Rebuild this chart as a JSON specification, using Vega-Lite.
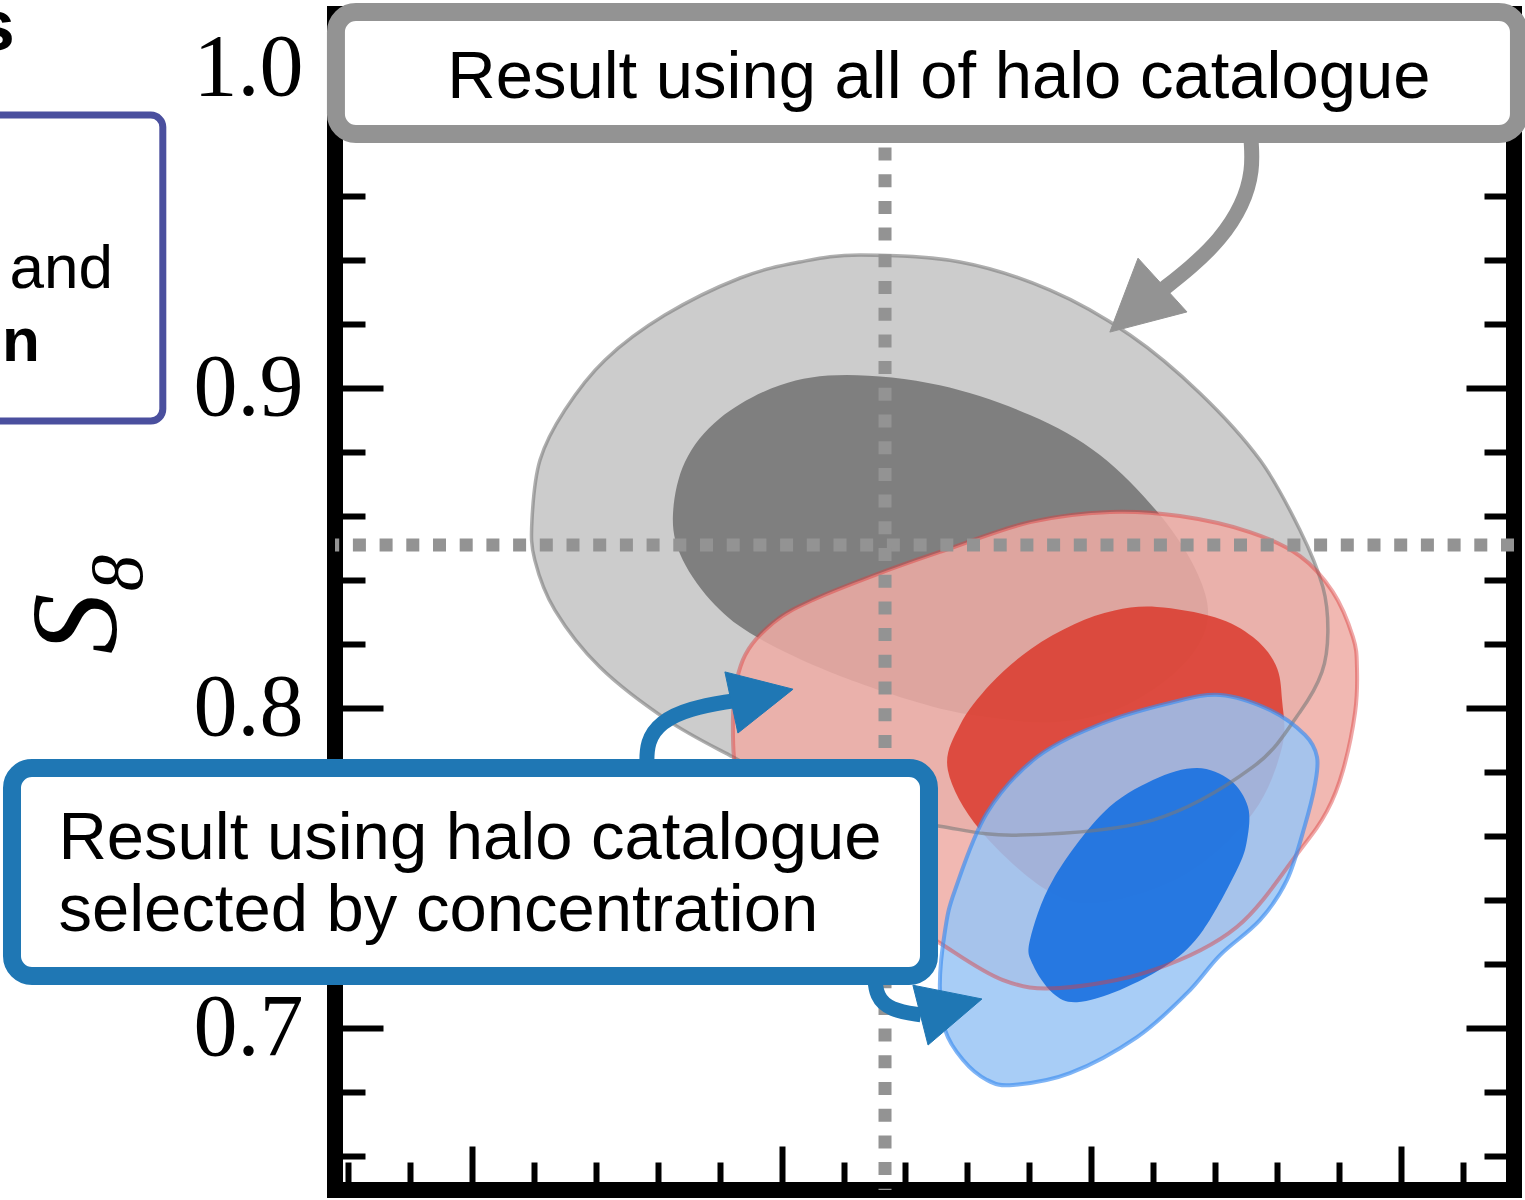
{
  "$schema": "https://vega.github.io/schema/vega-lite/v6.json",
  "width": 1179,
  "height": 1176,
  "autosize": {"type": "none"},
  "padding": {"left": 335, "top": 14, "right": 11, "bottom": 10},
  "background": "white",
  "config": {
    "view": {"stroke": "black", "strokeWidth": 16},
    "axis": {"domain": false, "grid": false, "tickColor": "black", "tickWidth": 6, "tickCap": "butt"}
  },
  "resolve": {"axis": {"x": "independent", "y": "independent"}},
  "datasets": {
    "pts": [
      {"s":"go","i":0,"x":0.3253,"y":0.9416},{"s":"go","i":1,"x":0.3576,"y":0.9394},{"s":"go","i":2,"x":0.3867,"y":0.9306},{"s":"go","i":3,"x":0.4125,"y":0.9166},{"s":"go","i":4,"x":0.4351,"y":0.8984},{"s":"go","i":5,"x":0.4545,"y":0.8775},{"s":"go","i":6,"x":0.4674,"y":0.8556},{"s":"go","i":7,"x":0.4748,"y":0.8378},{"s":"go","i":8,"x":0.4764,"y":0.8238},{"s":"go","i":9,"x":0.4745,"y":0.8113},{"s":"go","i":10,"x":0.4674,"y":0.7988},{"s":"go","i":11,"x":0.4522,"y":0.7816},{"s":"go","i":12,"x":0.4199,"y":0.765},{"s":"go","i":13,"x":0.377,"y":0.7603},{"s":"go","i":14,"x":0.3511,"y":0.7631},{"s":"go","i":15,"x":0.3253,"y":0.7681},{"s":"go","i":16,"x":0.3027,"y":0.7759},{"s":"go","i":17,"x":0.2843,"y":0.7847},{"s":"go","i":18,"x":0.263,"y":0.7963},{"s":"go","i":19,"x":0.2413,"y":0.8128},{"s":"go","i":20,"x":0.2268,"y":0.8306},{"s":"go","i":21,"x":0.2203,"y":0.8463},{"s":"go","i":22,"x":0.2194,"y":0.8588},{"s":"go","i":23,"x":0.222,"y":0.8775},{"s":"go","i":24,"x":0.23,"y":0.8931},{"s":"go","i":25,"x":0.243,"y":0.9088},{"s":"go","i":26,"x":0.2623,"y":0.9228},{"s":"go","i":27,"x":0.2866,"y":0.9344},{"s":"go","i":28,"x":0.3059,"y":0.9394},
      {"s":"gi","i":0,"x":0.3211,"y":0.9041},{"s":"gi","i":1,"x":0.3511,"y":0.9009},{"s":"gi","i":2,"x":0.3802,"y":0.8916},{"s":"gi","i":3,"x":0.4028,"y":0.8791},{"s":"gi","i":4,"x":0.4222,"y":0.8603},{"s":"gi","i":5,"x":0.4345,"y":0.8416},{"s":"gi","i":6,"x":0.4374,"y":0.8266},{"s":"gi","i":7,"x":0.4286,"y":0.8125},{"s":"gi","i":8,"x":0.4093,"y":0.8},{"s":"gi","i":9,"x":0.3876,"y":0.7956},{"s":"gi","i":10,"x":0.3641,"y":0.7975},{"s":"gi","i":11,"x":0.3447,"y":0.8016},{"s":"gi","i":12,"x":0.3156,"y":0.8113},{"s":"gi","i":13,"x":0.292,"y":0.8222},{"s":"gi","i":14,"x":0.2785,"y":0.8322},{"s":"gi","i":15,"x":0.2681,"y":0.8463},{"s":"gi","i":16,"x":0.2649,"y":0.8597},{"s":"gi","i":17,"x":0.2688,"y":0.8769},{"s":"gi","i":18,"x":0.2801,"y":0.8906},{"s":"gi","i":19,"x":0.2995,"y":0.9009},
      {"s":"ro","i":0,"x":0.406,"y":0.8613},{"s":"ro","i":1,"x":0.4286,"y":0.86},{"s":"ro","i":2,"x":0.4512,"y":0.855},{"s":"ro","i":3,"x":0.4674,"y":0.8475},{"s":"ro","i":4,"x":0.478,"y":0.8363},{"s":"ro","i":5,"x":0.4845,"y":0.8222},{"s":"ro","i":6,"x":0.4858,"y":0.8125},{"s":"ro","i":7,"x":0.4852,"y":0.7988},{"s":"ro","i":8,"x":0.4813,"y":0.7806},{"s":"ro","i":9,"x":0.4761,"y":0.7678},{"s":"ro","i":10,"x":0.4674,"y":0.7556},{"s":"ro","i":11,"x":0.447,"y":0.7316},{"s":"ro","i":12,"x":0.4199,"y":0.7181},{"s":"ro","i":13,"x":0.3899,"y":0.7125},{"s":"ro","i":14,"x":0.3715,"y":0.715},{"s":"ro","i":15,"x":0.3511,"y":0.7266},{"s":"ro","i":16,"x":0.3285,"y":0.7416},{"s":"ro","i":17,"x":0.3027,"y":0.7588},{"s":"ro","i":18,"x":0.2872,"y":0.7744},{"s":"ro","i":19,"x":0.2843,"y":0.7963},{"s":"ro","i":20,"x":0.2875,"y":0.815},{"s":"ro","i":21,"x":0.2972,"y":0.8266},{"s":"ro","i":22,"x":0.3101,"y":0.8338},{"s":"ro","i":23,"x":0.3318,"y":0.8422},{"s":"ro","i":24,"x":0.3511,"y":0.8488},{"s":"ro","i":25,"x":0.3802,"y":0.8581},
      {"s":"ri","i":0,"x":0.4212,"y":0.8316},{"s":"ri","i":1,"x":0.4399,"y":0.8284},{"s":"ri","i":2,"x":0.4522,"y":0.8222},{"s":"ri","i":3,"x":0.4596,"y":0.8134},{"s":"ri","i":4,"x":0.4616,"y":0.8025},{"s":"ri","i":5,"x":0.4616,"y":0.7878},{"s":"ri","i":6,"x":0.4522,"y":0.7672},{"s":"ri","i":7,"x":0.4309,"y":0.7484},{"s":"ri","i":8,"x":0.4038,"y":0.7394},{"s":"ri","i":9,"x":0.3857,"y":0.7431},{"s":"ri","i":10,"x":0.3641,"y":0.7619},{"s":"ri","i":11,"x":0.3537,"y":0.7806},{"s":"ri","i":12,"x":0.3575,"y":0.7945},{"s":"ri","i":13,"x":0.3675,"y":0.8075},{"s":"ri","i":14,"x":0.3805,"y":0.8185},{"s":"ri","i":15,"x":0.3945,"y":0.8262},{"s":"ri","i":16,"x":0.4075,"y":0.8305},
      {"s":"bo","i":0,"x":0.4416,"y":0.8041},{"s":"bo","i":1,"x":0.4577,"y":0.7994},{"s":"bo","i":2,"x":0.469,"y":0.7916},{"s":"bo","i":3,"x":0.4729,"y":0.7847},{"s":"bo","i":4,"x":0.4722,"y":0.7759},{"s":"bo","i":5,"x":0.469,"y":0.7634},{"s":"bo","i":6,"x":0.4632,"y":0.7463},{"s":"bo","i":7,"x":0.4545,"y":0.7338},{"s":"bo","i":8,"x":0.4416,"y":0.7228},{"s":"bo","i":9,"x":0.4309,"y":0.7109},{"s":"bo","i":10,"x":0.4148,"y":0.6972},{"s":"bo","i":11,"x":0.3931,"y":0.6859},{"s":"bo","i":12,"x":0.3747,"y":0.6822},{"s":"bo","i":13,"x":0.3663,"y":0.6838},{"s":"bo","i":14,"x":0.3586,"y":0.69},{"s":"bo","i":15,"x":0.3528,"y":0.6994},{"s":"bo","i":16,"x":0.3511,"y":0.7134},{"s":"bo","i":17,"x":0.3528,"y":0.7306},{"s":"bo","i":18,"x":0.356,"y":0.7431},{"s":"bo","i":19,"x":0.3663,"y":0.7672},{"s":"bo","i":20,"x":0.3825,"y":0.7847},{"s":"bo","i":21,"x":0.4038,"y":0.7953},{"s":"bo","i":22,"x":0.4254,"y":0.8016},
      {"s":"bi","i":0,"x":0.4341,"y":0.7813},{"s":"bi","i":1,"x":0.4448,"y":0.7775},{"s":"bi","i":2,"x":0.4506,"y":0.7691},{"s":"bi","i":3,"x":0.4503,"y":0.7588},{"s":"bi","i":4,"x":0.447,"y":0.7494},{"s":"bi","i":5,"x":0.4361,"y":0.7306},{"s":"bi","i":6,"x":0.4254,"y":0.7203},{"s":"bi","i":7,"x":0.4093,"y":0.7119},{"s":"bi","i":8,"x":0.3954,"y":0.7081},{"s":"bi","i":9,"x":0.3876,"y":0.7109},{"s":"bi","i":10,"x":0.3812,"y":0.7197},{"s":"bi","i":11,"x":0.3802,"y":0.7275},{"s":"bi","i":12,"x":0.3876,"y":0.7463},{"s":"bi","i":13,"x":0.4038,"y":0.7672},{"s":"bi","i":14,"x":0.4199,"y":0.7775},
      {"s":"gs","i":0,"x":0.4516,"y":0.9775},{"s":"gs","i":1,"x":0.4522,"y":0.9681},{"s":"gs","i":2,"x":0.449,"y":0.9572},{"s":"gs","i":3,"x":0.4416,"y":0.9463},{"s":"gs","i":4,"x":0.4319,"y":0.9375},{"s":"gs","i":5,"x":0.4228,"y":0.9306},
      {"s":"gh","i":0,"x":0.406,"y":0.9175},{"s":"gh","i":1,"x":0.4151,"y":0.9406},{"s":"gh","i":2,"x":0.4309,"y":0.9238},
      {"s":"b1s","i":0,"x":0.2565,"y":0.7822},{"s":"b1s","i":1,"x":0.2565,"y":0.7894},{"s":"b1s","i":2,"x":0.2607,"y":0.7956},{"s":"b1s","i":3,"x":0.2704,"y":0.8},{"s":"b1s","i":4,"x":0.284,"y":0.8022},
      {"s":"b1h","i":0,"x":0.3037,"y":0.8059},{"s":"b1h","i":1,"x":0.2817,"y":0.8113},{"s":"b1h","i":2,"x":0.2859,"y":0.7922},
      {"s":"b2s","i":0,"x":0.3301,"y":0.7163},{"s":"b2s","i":1,"x":0.3305,"y":0.71},{"s":"b2s","i":2,"x":0.335,"y":0.7056},{"s":"b2s","i":3,"x":0.345,"y":0.7041},
      {"s":"b2h","i":0,"x":0.3647,"y":0.7091},{"s":"b2h","i":1,"x":0.3424,"y":0.7134},{"s":"b2h","i":2,"x":0.3473,"y":0.6947}
    ]
  },
  "layer": [
    {
      "data": {"name": "pts"},
      "transform": [{"filter": "datum.s === 'go'"}],
      "mark": {"type": "line", "interpolate": "cardinal-closed", "fill": "#cccccc", "stroke": "transparent", "strokeWidth": 0},
      "encoding": {
        "x": {"field": "x", "type": "quantitative", "scale": {"domain": [0.1558, 0.5365], "nice": false, "zero": false},
              "axis": {"orient": "bottom", "values": [0.2, 0.3, 0.4, 0.5], "tickSize": -44, "labels": false, "title": null}},
        "y": {"field": "y", "type": "quantitative", "scale": {"domain": [0.6494, 1.0169], "nice": false, "zero": false},
              "axis": {"orient": "left", "values": [0.7, 0.8, 0.9, 1.0], "tickSize": -48, "labelPadding": 80, "format": ".1f",
                       "labelFont": "Liberation Serif", "labelFontSize": 88, "labelColor": "black",
                       "title": "S₈", "titleFont": "Liberation Serif", "titleFontStyle": "italic", "titleFontWeight": "normal",
                       "titleFontSize": 122, "titleColor": "black", "titlePadding": 52}},
        "order": {"field": "i", "type": "quantitative"}
      }
    },
    {
      "data": {"name": "pts"},
      "transform": [{"filter": "datum.s === 'gi'"}],
      "mark": {"type": "line", "interpolate": "cardinal-closed", "fill": "#7f7f7f", "stroke": "transparent", "strokeWidth": 0},
      "encoding": {
        "x": {"field": "x", "type": "quantitative", "scale": {"domain": [0.1558, 0.5365], "nice": false, "zero": false},
              "axis": {"orient": "bottom", "values": [0.16, 0.18, 0.22, 0.24, 0.26, 0.28, 0.32, 0.34, 0.36, 0.38, 0.42, 0.44, 0.46, 0.48, 0.52], "tickSize": -28, "labels": false, "title": null}},
        "y": {"field": "y", "type": "quantitative", "scale": {"domain": [0.6494, 1.0169], "nice": false, "zero": false},
              "axis": {"orient": "left", "values": [0.66, 0.68, 0.72, 0.74, 0.76, 0.78, 0.82, 0.84, 0.86, 0.88, 0.92, 0.94, 0.96, 0.98], "tickSize": -30, "labels": false, "title": null}},
        "order": {"field": "i", "type": "quantitative"}
      }
    },
    {
      "data": {"name": "pts"},
      "transform": [{"filter": "datum.s === 'ro'"}],
      "mark": {"type": "line", "interpolate": "cardinal-closed", "fill": "#efaba4", "fillOpacity": 0.85, "stroke": "transparent", "strokeWidth": 0},
      "encoding": {
        "x": {"field": "x", "type": "quantitative", "scale": {"domain": [0.1558, 0.5365], "nice": false, "zero": false}, "axis": null},
        "y": {"field": "y", "type": "quantitative", "scale": {"domain": [0.6494, 1.0169], "nice": false, "zero": false},
              "axis": {"orient": "right", "values": [0.7, 0.8, 0.9, 1.0], "tickSize": -48, "labels": false, "title": null}},
        "order": {"field": "i", "type": "quantitative"}
      }
    },
    {
      "data": {"name": "pts"},
      "transform": [{"filter": "datum.s === 'ri'"}],
      "mark": {"type": "line", "interpolate": "cardinal-closed", "fill": "#da3a2d", "fillOpacity": 0.85, "stroke": "transparent", "strokeWidth": 0},
      "encoding": {
        "x": {"field": "x", "type": "quantitative", "scale": {"domain": [0.1558, 0.5365], "nice": false, "zero": false}, "axis": null},
        "y": {"field": "y", "type": "quantitative", "scale": {"domain": [0.6494, 1.0169], "nice": false, "zero": false},
              "axis": {"orient": "right", "values": [0.66, 0.68, 0.72, 0.74, 0.76, 0.78, 0.82, 0.84, 0.86, 0.88, 0.92, 0.94, 0.96, 0.98], "tickSize": -30, "labels": false, "title": null}},
        "order": {"field": "i", "type": "quantitative"}
      }
    },
    {
      "data": {"name": "pts"},
      "transform": [{"filter": "datum.s === 'bo'"}],
      "mark": {"type": "line", "interpolate": "cardinal-closed", "fill": "#99c4f5", "fillOpacity": 0.85, "stroke": "transparent", "strokeWidth": 0},
      "encoding": {
        "x": {"field": "x", "type": "quantitative", "scale": {"domain": [0.1558, 0.5365], "nice": false, "zero": false}, "axis": null},
        "y": {"field": "y", "type": "quantitative", "scale": {"domain": [0.6494, 1.0169], "nice": false, "zero": false}, "axis": null},
        "order": {"field": "i", "type": "quantitative"}
      }
    },
    {
      "data": {"name": "pts"},
      "transform": [{"filter": "datum.s === 'bi'"}],
      "mark": {"type": "line", "interpolate": "cardinal-closed", "fill": "#1870e0", "fillOpacity": 0.9, "stroke": "transparent", "strokeWidth": 0},
      "encoding": {
        "x": {"field": "x", "type": "quantitative", "scale": {"domain": [0.1558, 0.5365], "nice": false, "zero": false}, "axis": null},
        "y": {"field": "y", "type": "quantitative", "scale": {"domain": [0.6494, 1.0169], "nice": false, "zero": false}, "axis": null},
        "order": {"field": "i", "type": "quantitative"}
      }
    },
    {
      "data": {"name": "pts"},
      "transform": [{"filter": "datum.s === 'go'"}],
      "mark": {"type": "line", "interpolate": "cardinal-closed", "stroke": "#7a7a7a", "strokeOpacity": 0.6, "strokeWidth": 3.5},
      "encoding": {
        "x": {"field": "x", "type": "quantitative", "scale": {"domain": [0.1558, 0.5365], "nice": false, "zero": false}, "axis": null},
        "y": {"field": "y", "type": "quantitative", "scale": {"domain": [0.6494, 1.0169], "nice": false, "zero": false}, "axis": null},
        "order": {"field": "i", "type": "quantitative"}
      }
    },
    {
      "data": {"name": "pts"},
      "transform": [{"filter": "datum.s === 'ro'"}],
      "mark": {"type": "line", "interpolate": "cardinal-closed", "stroke": "#dc3b3b", "strokeOpacity": 0.45, "strokeWidth": 4},
      "encoding": {
        "x": {"field": "x", "type": "quantitative", "scale": {"domain": [0.1558, 0.5365], "nice": false, "zero": false}, "axis": null},
        "y": {"field": "y", "type": "quantitative", "scale": {"domain": [0.6494, 1.0169], "nice": false, "zero": false}, "axis": null},
        "order": {"field": "i", "type": "quantitative"}
      }
    },
    {
      "data": {"name": "pts"},
      "transform": [{"filter": "datum.s === 'bo'"}],
      "mark": {"type": "line", "interpolate": "cardinal-closed", "stroke": "#3a8cf0", "strokeOpacity": 0.65, "strokeWidth": 4},
      "encoding": {
        "x": {"field": "x", "type": "quantitative", "scale": {"domain": [0.1558, 0.5365], "nice": false, "zero": false}, "axis": null},
        "y": {"field": "y", "type": "quantitative", "scale": {"domain": [0.6494, 1.0169], "nice": false, "zero": false}, "axis": null},
        "order": {"field": "i", "type": "quantitative"}
      }
    },
    {
      "data": {"values": [{"s8": 0.851}]},
      "mark": {"type": "rule", "stroke": "#939393", "strokeWidth": 13, "strokeDash": [13, 13.7], "strokeCap": "butt"},
      "encoding": {
        "y": {"field": "s8", "type": "quantitative", "scale": {"domain": [0.6494, 1.0169], "nice": false, "zero": false}, "axis": null}
      }
    },
    {
      "data": {"values": [{"om": 0.3334}]},
      "mark": {"type": "rule", "stroke": "#939393", "strokeWidth": 13, "strokeDash": [13, 13.7], "strokeCap": "butt"},
      "encoding": {
        "x": {"field": "om", "type": "quantitative", "scale": {"domain": [0.1558, 0.5365], "nice": false, "zero": false}, "axis": null}
      }
    },
    {
      "data": {"name": "pts"},
      "transform": [{"filter": "datum.s === 'gs'"}],
      "mark": {"type": "line", "interpolate": "basis", "stroke": "#939393", "strokeWidth": 15, "strokeCap": "butt"},
      "encoding": {
        "x": {"field": "x", "type": "quantitative", "scale": {"domain": [0.1558, 0.5365], "nice": false, "zero": false}, "axis": null},
        "y": {"field": "y", "type": "quantitative", "scale": {"domain": [0.6494, 1.0169], "nice": false, "zero": false}, "axis": null},
        "order": {"field": "i", "type": "quantitative"}
      }
    },
    {
      "data": {"name": "pts"},
      "transform": [{"filter": "datum.s === 'gh'"}],
      "mark": {"type": "line", "interpolate": "linear-closed", "fill": "#939393", "stroke": "#939393", "strokeWidth": 1},
      "encoding": {
        "x": {"field": "x", "type": "quantitative", "scale": {"domain": [0.1558, 0.5365], "nice": false, "zero": false}, "axis": null},
        "y": {"field": "y", "type": "quantitative", "scale": {"domain": [0.6494, 1.0169], "nice": false, "zero": false}, "axis": null},
        "order": {"field": "i", "type": "quantitative"}
      }
    },
    {
      "data": {"name": "pts"},
      "transform": [{"filter": "datum.s === 'b1s' || datum.s === 'b2s'"}],
      "mark": {"type": "line", "interpolate": "basis", "stroke": "#1f77b4", "strokeWidth": 15, "strokeCap": "butt"},
      "encoding": {
        "x": {"field": "x", "type": "quantitative", "scale": {"domain": [0.1558, 0.5365], "nice": false, "zero": false}, "axis": null},
        "y": {"field": "y", "type": "quantitative", "scale": {"domain": [0.6494, 1.0169], "nice": false, "zero": false}, "axis": null},
        "detail": {"field": "s", "type": "nominal"},
        "order": {"field": "i", "type": "quantitative"}
      }
    },
    {
      "data": {"name": "pts"},
      "transform": [{"filter": "datum.s === 'b1h' || datum.s === 'b2h'"}],
      "mark": {"type": "line", "interpolate": "linear-closed", "fill": "#1f77b4", "stroke": "#1f77b4", "strokeWidth": 1},
      "encoding": {
        "x": {"field": "x", "type": "quantitative", "scale": {"domain": [0.1558, 0.5365], "nice": false, "zero": false}, "axis": null},
        "y": {"field": "y", "type": "quantitative", "scale": {"domain": [0.6494, 1.0169], "nice": false, "zero": false}, "axis": null},
        "detail": {"field": "s", "type": "nominal"},
        "order": {"field": "i", "type": "quantitative"}
      }
    },
    {
      "data": {"values": [{"x0": 0.0314, "x1": 0.1002, "y0": 0.9853, "y1": 0.8897}]},
      "mark": {"type": "rect", "fill": "white", "stroke": "#4a4f9e", "strokeWidth": 7, "cornerRadius": 12},
      "encoding": {
        "x": {"field": "x0", "type": "quantitative", "scale": {"domain": [0.1558, 0.5365], "nice": false, "zero": false}, "axis": null},
        "x2": {"field": "x1"},
        "y": {"field": "y0", "type": "quantitative", "scale": {"domain": [0.6494, 1.0169], "nice": false, "zero": false}, "axis": null},
        "y2": {"field": "y1"}
      }
    },
    {
      "data": {"values": [{"x0": 0.1561, "x1": 0.5381, "y0": 1.0175, "y1": 0.9794}]},
      "mark": {"type": "rect", "fill": "white", "stroke": "#939393", "strokeWidth": 18, "cornerRadius": 20},
      "encoding": {
        "x": {"field": "x0", "type": "quantitative", "scale": {"domain": [0.1558, 0.5365], "nice": false, "zero": false}, "axis": null},
        "x2": {"field": "x1"},
        "y": {"field": "y0", "type": "quantitative", "scale": {"domain": [0.6494, 1.0169], "nice": false, "zero": false}, "axis": null},
        "y2": {"field": "y1"}
      }
    },
    {
      "data": {"values": [{"x0": 0.0515, "x1": 0.3476, "y0": 0.7813, "y1": 0.7163}]},
      "mark": {"type": "rect", "fill": "white", "stroke": "#1f77b4", "strokeWidth": 18, "cornerRadius": 20},
      "encoding": {
        "x": {"field": "x0", "type": "quantitative", "scale": {"domain": [0.1558, 0.5365], "nice": false, "zero": false}, "axis": null},
        "x2": {"field": "x1"},
        "y": {"field": "y0", "type": "quantitative", "scale": {"domain": [0.6494, 1.0169], "nice": false, "zero": false}, "axis": null},
        "y2": {"field": "y1"}
      }
    },
    {
      "data": {"values": [{"x": 0.3508, "y": 0.9906, "t": "Result using all of halo catalogue"}]},
      "mark": {"type": "text", "font": "Liberation Sans", "fontSize": 67, "align": "center", "baseline": "alphabetic", "color": "black"},
      "encoding": {
        "x": {"field": "x", "type": "quantitative", "scale": {"domain": [0.1558, 0.5365], "nice": false, "zero": false}, "axis": null},
        "y": {"field": "y", "type": "quantitative", "scale": {"domain": [0.6494, 1.0169], "nice": false, "zero": false}, "axis": null},
        "text": {"field": "t"}
      }
    },
    {
      "data": {"values": [{"x": 0.0665, "y": 0.7528, "t": "Result using halo catalogue\nselected by concentration"}]},
      "mark": {"type": "text", "font": "Liberation Sans", "fontSize": 67, "align": "left", "baseline": "alphabetic", "lineBreak": "\n", "lineHeight": 72, "color": "black"},
      "encoding": {
        "x": {"field": "x", "type": "quantitative", "scale": {"domain": [0.1558, 0.5365], "nice": false, "zero": false}, "axis": null},
        "y": {"field": "y", "type": "quantitative", "scale": {"domain": [0.6494, 1.0169], "nice": false, "zero": false}, "axis": null},
        "text": {"field": "t"}
      }
    },
    {
      "data": {"values": [{"x": 0.0841, "y": 0.9313, "t": "and"}]},
      "mark": {"type": "text", "font": "Liberation Sans", "fontSize": 62, "align": "right", "baseline": "alphabetic", "color": "black"},
      "encoding": {
        "x": {"field": "x", "type": "quantitative", "scale": {"domain": [0.1558, 0.5365], "nice": false, "zero": false}, "axis": null},
        "y": {"field": "y", "type": "quantitative", "scale": {"domain": [0.6494, 1.0169], "nice": false, "zero": false}, "axis": null},
        "text": {"field": "t"}
      }
    },
    {
      "data": {"values": [{"x": 0.0605, "y": 0.9084, "t": "n"}]},
      "mark": {"type": "text", "font": "Liberation Sans", "fontSize": 62, "fontWeight": "bold", "align": "right", "baseline": "alphabetic", "color": "black"},
      "encoding": {
        "x": {"field": "x", "type": "quantitative", "scale": {"domain": [0.1558, 0.5365], "nice": false, "zero": false}, "axis": null},
        "y": {"field": "y", "type": "quantitative", "scale": {"domain": [0.6494, 1.0169], "nice": false, "zero": false}, "axis": null},
        "text": {"field": "t"}
      }
    },
    {
      "data": {"values": [{"x": 0.0524, "y": 1.0056, "t": "s"}]},
      "mark": {"type": "text", "font": "Liberation Sans", "fontSize": 72, "fontWeight": "bold", "align": "right", "baseline": "alphabetic", "color": "black"},
      "encoding": {
        "x": {"field": "x", "type": "quantitative", "scale": {"domain": [0.1558, 0.5365], "nice": false, "zero": false}, "axis": null},
        "y": {"field": "y", "type": "quantitative", "scale": {"domain": [0.6494, 1.0169], "nice": false, "zero": false}, "axis": null},
        "text": {"field": "t"}
      }
    }
  ]
}
